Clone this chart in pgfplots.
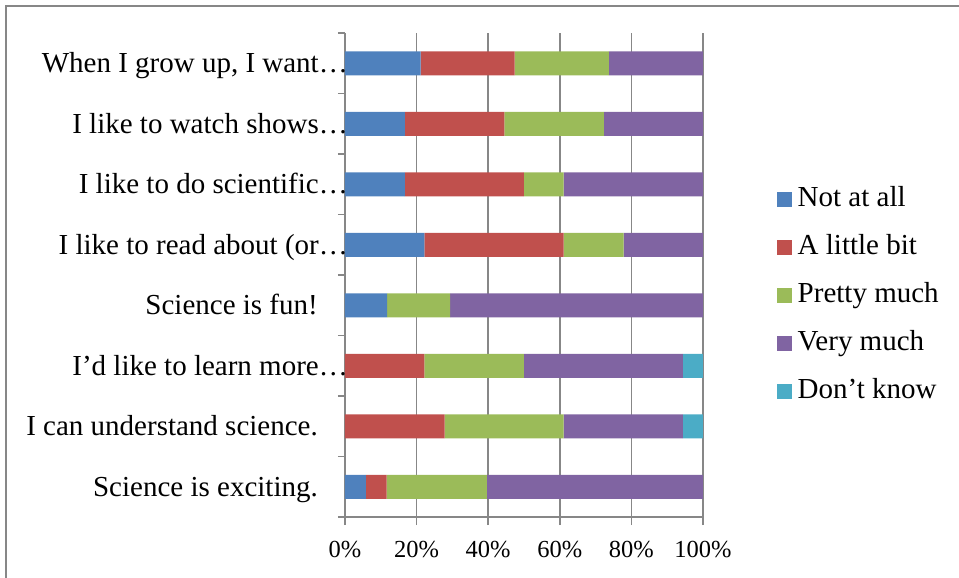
\documentclass[border=0pt]{standalone}
\usepackage{fontspec}
\setmainfont{Liberation Serif}
\usepackage{pgfplots}
\pgfplotsset{compat=1.18}

\definecolor{cBlue}{HTML}{4F81BD}
\definecolor{cRed}{HTML}{C0504D}
\definecolor{cGreen}{HTML}{9BBB59}
\definecolor{cPurple}{HTML}{8064A2}
\definecolor{cAqua}{HTML}{4BACC6}
\definecolor{gridgray}{HTML}{878787}

% right padding for full labels, overhang for truncated ones
\newcommand{\fullpad}{\hspace{19bp}\mbox{}}
\newcommand{\cutpad}{\hspace{-11bp}\mbox{}}

\begin{document}
\begin{tikzpicture}
\useasboundingbox (-345bp,-61bp) rectangle (614bp,517bp);
% outer frame
\draw[gridgray, line width=1.5bp] (-339bp,-80bp) -- (-339bp,511bp) -- (640bp,511bp);
\begin{axis}[
  at={(0,0)}, anchor=south west,
  scale only axis, width=358bp, height=484bp,
  xbar stacked, bar width=24bp,
  xmin=0, xmax=100, ymin=-0.5, ymax=7.5,
  axis x line*=bottom, axis y line*=left,
  axis line style={-, gridgray, line width=1.5bp},
  every inner x axis line/.append style={-},
  every outer x axis line/.append style={-},
  every inner y axis line/.append style={-},
  every outer y axis line/.append style={-},
  xtick={0,20,...,100},
  xticklabel={\pgfmathprintnumber{\tick}\%},
  /pgf/number format/assume math mode=true,
  xticklabel style={font=\fontsize{24.5bp}{29bp}\selectfont, inner sep=0pt,
    text height=17bp, text depth=0bp, yshift=-15bp},
  xmajorgrids, major grid style={gridgray, line width=1.5bp},
  ytick={0,...,7},
  yticklabels={
    Science is exciting.\fullpad,
    I can understand science.\fullpad,
    I’d like to learn more…\cutpad,
    Science is fun!\fullpad,
    I like to read about (or…\cutpad,
    I like to do scientific…\cutpad,
    I like to watch shows…\cutpad,
    {When I grow up, I want…\cutpad}},
  minor ytick={-0.5,0.5,...,7.5},
  tick align=outside,
  major tick length=8bp, minor tick length=7bp,
  tick style={gridgray, line width=1.5bp},
  major y tick style={draw=none},
  yticklabel style={font=\fontsize{29bp}{34bp}\selectfont, anchor=east, inner sep=0pt,
    text height=19bp, text depth=0bp},
  legend style={at={(axis description cs:1.206,0.458)}, anchor=west,
    draw=none, fill=none, inner sep=0pt, outer sep=0pt,
    font=\fontsize{29bp}{34bp}\selectfont,
    row sep=22bp, column sep=6bp,
    nodes={inner sep=0pt, text height=20bp, text depth=6bp}},
  legend cell align=left,
  legend image code/.code={\fill[#1] (0bp,-7.5bp) rectangle (15bp,7.5bp);},
]
\addplot[fill=cBlue, draw=none] coordinates
  {(5.8,0) (0,1) (0,2) (11.8,3) (22.2,4) (16.7,5) (16.7,6) (21.1,7)};
\addplot[fill=cRed, draw=none] coordinates
  {(5.8,0) (27.8,1) (22.2,2) (0,3) (38.9,4) (33.3,5) (27.8,6) (26.3,7)};
\addplot[fill=cGreen, draw=none] coordinates
  {(28.0,0) (33.3,1) (27.8,2) (17.6,3) (16.7,4) (11.1,5) (27.8,6) (26.3,7)};
\addplot[fill=cPurple, draw=none] coordinates
  {(60.4,0) (33.3,1) (44.4,2) (70.6,3) (22.2,4) (38.9,5) (27.7,6) (26.3,7)};
\addplot[fill=cAqua, draw=none] coordinates
  {(0,0) (5.6,1) (5.6,2) (0,3) (0,4) (0,5) (0,6) (0,7)};
\legend{Not at all, A little bit, Pretty much, Very much, Don’t know}
\end{axis}
\end{tikzpicture}
\end{document}
